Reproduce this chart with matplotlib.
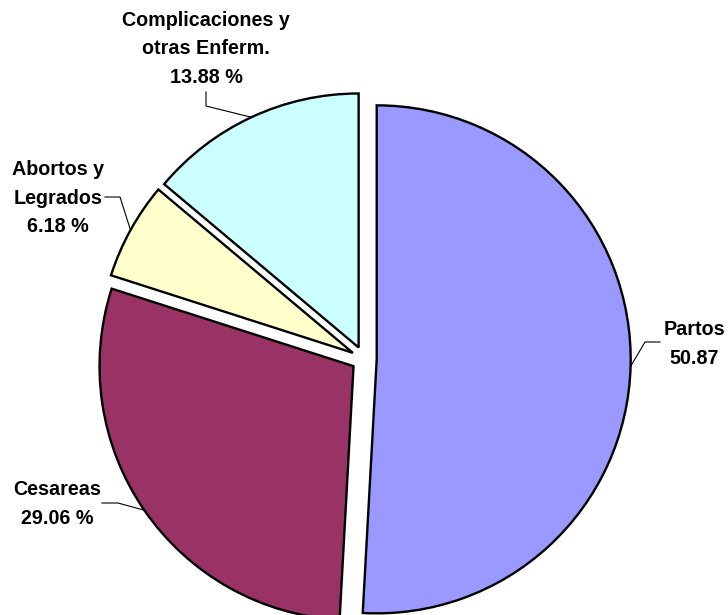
import matplotlib.pyplot as plt
import numpy as np

# data
labels = ['Partos', 'Cesareas', 'Abortos y\nLegrados', 'Complicaciones y\notras Enferm.']
values = [50.87, 29.06, 6.18, 13.88]
value_text = ['50.87', '29.06 %', '6.18 %', '13.88 %']
colors = ['#9999FF', '#993366', '#FFFFCC', '#CCFFFF']

# label positions and leader-line elbows (pixels, from top-left)
label_pos = [(694, 344), (57, 504), (58, 198), (206, 49)]
line_start = [(660, 342), (102, 503), (105, 197), (206, 92)]
line_elbow = [(645, 342), (118, 503), (120, 197), (206, 106)]

W, H = 728, 615
fig = plt.figure(figsize=(W / 100, H / 100), dpi=100)
ax = fig.add_axes([0, 0, 1, 1])

cx, cy, r = 364, H - 359, 254
gap = 12.7  # pie explode is in data units here (pixels)

wedges, _ = ax.pie(values, colors=colors, startangle=90, counterclock=False,
                   explode=[gap] * len(values), center=(cx, cy), radius=r,
                   wedgeprops=dict(edgecolor='black', linewidth=1.7))
ax.set_xlim(0, W)
ax.set_ylim(0, H)
ax.set_aspect('equal')
ax.axis('off')

for w, lab, vt, lp, ls, le in zip(wedges, labels, value_text, label_pos, line_start, line_elbow):
    mid = np.deg2rad((w.theta1 + w.theta2) / 2)
    ox, oy = w.center
    ex = ox + r * np.cos(mid)
    ey = oy + r * np.sin(mid)
    ax.plot([ls[0], le[0], ex], [H - ls[1], H - le[1], ey], color='black', lw=0.8)
    ax.text(lp[0], H - lp[1], lab + '\n' + vt, ha='center', va='center',
            fontsize=14.2, fontweight='bold', family=['Liberation Sans', 'DejaVu Sans'],
            linespacing=1.63)

fig.savefig('out.png', dpi=100)
